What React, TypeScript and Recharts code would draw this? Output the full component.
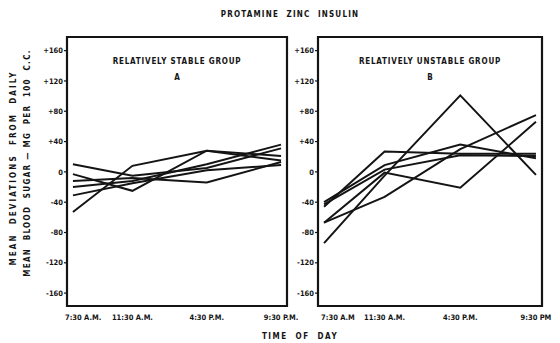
import React from "react";
import { LineChart, Line, XAxis, YAxis, ReferenceArea } from "recharts";

const times = [7.5, 11.5, 16.5, 21.5];
const leftTimeLabels = ["7:30 A.M.", "11:30 A.M.", "4:30 P.M.", "9:30 P.M."];
const rightTimeLabels = ["7:30 A.M", "11:30 A.M.", "4:30 P.M.", "9:30 PM"];
const yTicks = [160, 120, 80, 40, 0, -40, -80, -120, -160];

// Relatively stable group (A)
const stable1 = [10, -5, 5, 31];
const stable2 = [-3, -25, 28, 15];
const stable3 = [-53, 8, 28, 21];
const stable4 = [-12, -8, -14, 13];
const stable5 = [-20, -12, 10, 36];
const stable6 = [-31, -15, 2, 9];

// Relatively unstable group (B)
const unstable1 = [-94, -5, 101, -4];
const unstable2 = [-46, 27, 24, 24];
const unstable3 = [-67, -1, -21, 66];
const unstable4 = [-67, -33, 30, 75];
const unstable5 = [-40, 9, 36, 18];
const unstable6 = [-43, 3, 22, 21];

const stableSeries = [stable1, stable2, stable3, stable4, stable5, stable6];
const unstableSeries = [unstable1, unstable2, unstable3, unstable4, unstable5, unstable6];

const buildRows = (series: number[][]) =>
  times.map((t, i) => {
    const row: Record<string, number> = { t };
    series.forEach((s, k) => {
      row["s" + k] = s[i];
    });
    return row;
  });

const stableRows = buildRows(stableSeries);
const unstableRows = buildRows(unstableSeries);

const FONT = "'DejaVu Sans Condensed', 'DejaVu Sans', sans-serif";
const INK = "#141414";
const X_DOMAIN: [number, number] = [7.1, 21.9];
const Y_DOMAIN: [number, number] = [-177, 178];

const fmtY = (v: number) => (v > 0 ? "+" + v : String(v));

const makeXTick = (labels: string[], firstShift: number) => (props: any) => {
  const { x, y, index } = props;
  const first = index === 0;
  return (
    <text
      x={first ? x + firstShift : x}
      y={y}
      dy="0.71em"
      textAnchor={first ? "start" : "middle"}
      fontFamily={FONT}
      fontWeight="bold"
      fontSize={7.5}
      fill={INK}
    >
      {labels[index]}
    </text>
  );
};

const Panel = ({
  rows,
  count,
  yWidth,
  rightMargin,
  labels,
  firstShift,
}: {
  rows: any[];
  count: number;
  yWidth: number;
  rightMargin: number;
  labels: string[];
  firstShift: number;
}) => (
  <div style={{ position: "absolute", left: 0, top: 0 }}>
    <LineChart
      width={560}
      height={343}
      data={rows}
      margin={{ top: 37, right: rightMargin, bottom: 17, left: 0 }}
    >
      <XAxis
        dataKey="t"
        type="number"
        domain={X_DOMAIN}
        ticks={times}
        tickLine={false}
        axisLine={false}
        height={20}
        tickMargin={3}
        tick={makeXTick(labels, firstShift)}
        interval={0}
      />
      <YAxis
        type="number"
        domain={Y_DOMAIN}
        ticks={yTicks}
        width={yWidth}
        axisLine={false}
        tickSize={3}
        tickLine={{ stroke: INK, strokeWidth: 1.2 }}
        tickMargin={1}
        tickFormatter={fmtY}
        interval={0}
        tick={{ fontFamily: FONT, fontWeight: "bold", fontSize: 7.5, fill: INK }}
      />
      <ReferenceArea
        x1={X_DOMAIN[0]}
        x2={X_DOMAIN[1]}
        y1={Y_DOMAIN[0]}
        y2={Y_DOMAIN[1]}
        fill="none"
        stroke={INK}
        strokeWidth={2.2}
        ifOverflow="visible"
      />
      {Array.from({ length: count }).map((_, k) => (
        <Line
          key={k}
          dataKey={"s" + k}
          stroke={INK}
          strokeWidth={2}
          dot={false}
          isAnimationActive={false}
          strokeLinejoin="miter"
        />
      ))}
    </LineChart>
  </div>
);

const textStyle: React.CSSProperties = {
  position: "absolute",
  fontFamily: FONT,
  fontWeight: "bold",
  color: INK,
  whiteSpace: "nowrap",
  lineHeight: 1,
};

export default function App() {
  return (
    <div
      style={{
        position: "absolute",
        left: 0,
        top: 0,
        width: 560,
        height: 343,
        background: "#fff",
        overflow: "hidden",
      }}
    >
      <Panel rows={stableRows} count={6} yWidth={67} rightMargin={273} labels={leftTimeLabels} firstShift={-8} />
      <Panel rows={unstableRows} count={6} yWidth={318} rightMargin={18} labels={rightTimeLabels} firstShift={-3} />

      <div style={{ ...textStyle, left: 0, width: 560, top: 11, textAlign: "center", fontSize: 8, letterSpacing: 1.2, paddingLeft: 10 }}>
        PROTAMINE&nbsp;&nbsp;ZINC&nbsp;&nbsp;INSULIN
      </div>

      <div style={{ ...textStyle, left: 67, width: 220, top: 58, textAlign: "center", fontSize: 8, letterSpacing: 0.8 }}>
        RELATIVELY&nbsp;STABLE&nbsp;GROUP
      </div>
      <div style={{ ...textStyle, left: 67, width: 220, top: 74, textAlign: "center", fontSize: 8 }}>A</div>

      <div style={{ ...textStyle, left: 318, width: 224, top: 58, textAlign: "center", fontSize: 8, letterSpacing: 0.8 }}>
        RELATIVELY&nbsp;UNSTABLE&nbsp;GROUP
      </div>
      <div style={{ ...textStyle, left: 318, width: 224, top: 74, textAlign: "center", fontSize: 8 }}>B</div>

      <div style={{ ...textStyle, left: 200, width: 200, top: 333, textAlign: "center", fontSize: 8, letterSpacing: 1.5 }}>
        TIME&nbsp;&nbsp;OF&nbsp;&nbsp;DAY
      </div>

      <div
        style={{
          ...textStyle,
          left: 14 - 150,
          top: 169 - 5,
          width: 300,
          textAlign: "center",
          fontSize: 8,
          letterSpacing: 2.1,
          transform: "rotate(-90deg)",
          transformOrigin: "50% 50%",
        }}
      >
        MEAN&nbsp;&nbsp;DEVIATIONS&nbsp;&nbsp;FROM&nbsp;&nbsp;DAILY
      </div>
      <div
        style={{
          ...textStyle,
          left: 28 - 150,
          top: 164 - 5,
          width: 300,
          textAlign: "center",
          fontSize: 8,
          letterSpacing: 1.3,
          transform: "rotate(-90deg)",
          transformOrigin: "50% 50%",
        }}
      >
        MEAN&nbsp;&nbsp;BLOOD&nbsp;&nbsp;SUGAR&nbsp;—&nbsp;MG&nbsp;&nbsp;PER&nbsp;&nbsp;100&nbsp;&nbsp;C.C.
      </div>
    </div>
  );
}
